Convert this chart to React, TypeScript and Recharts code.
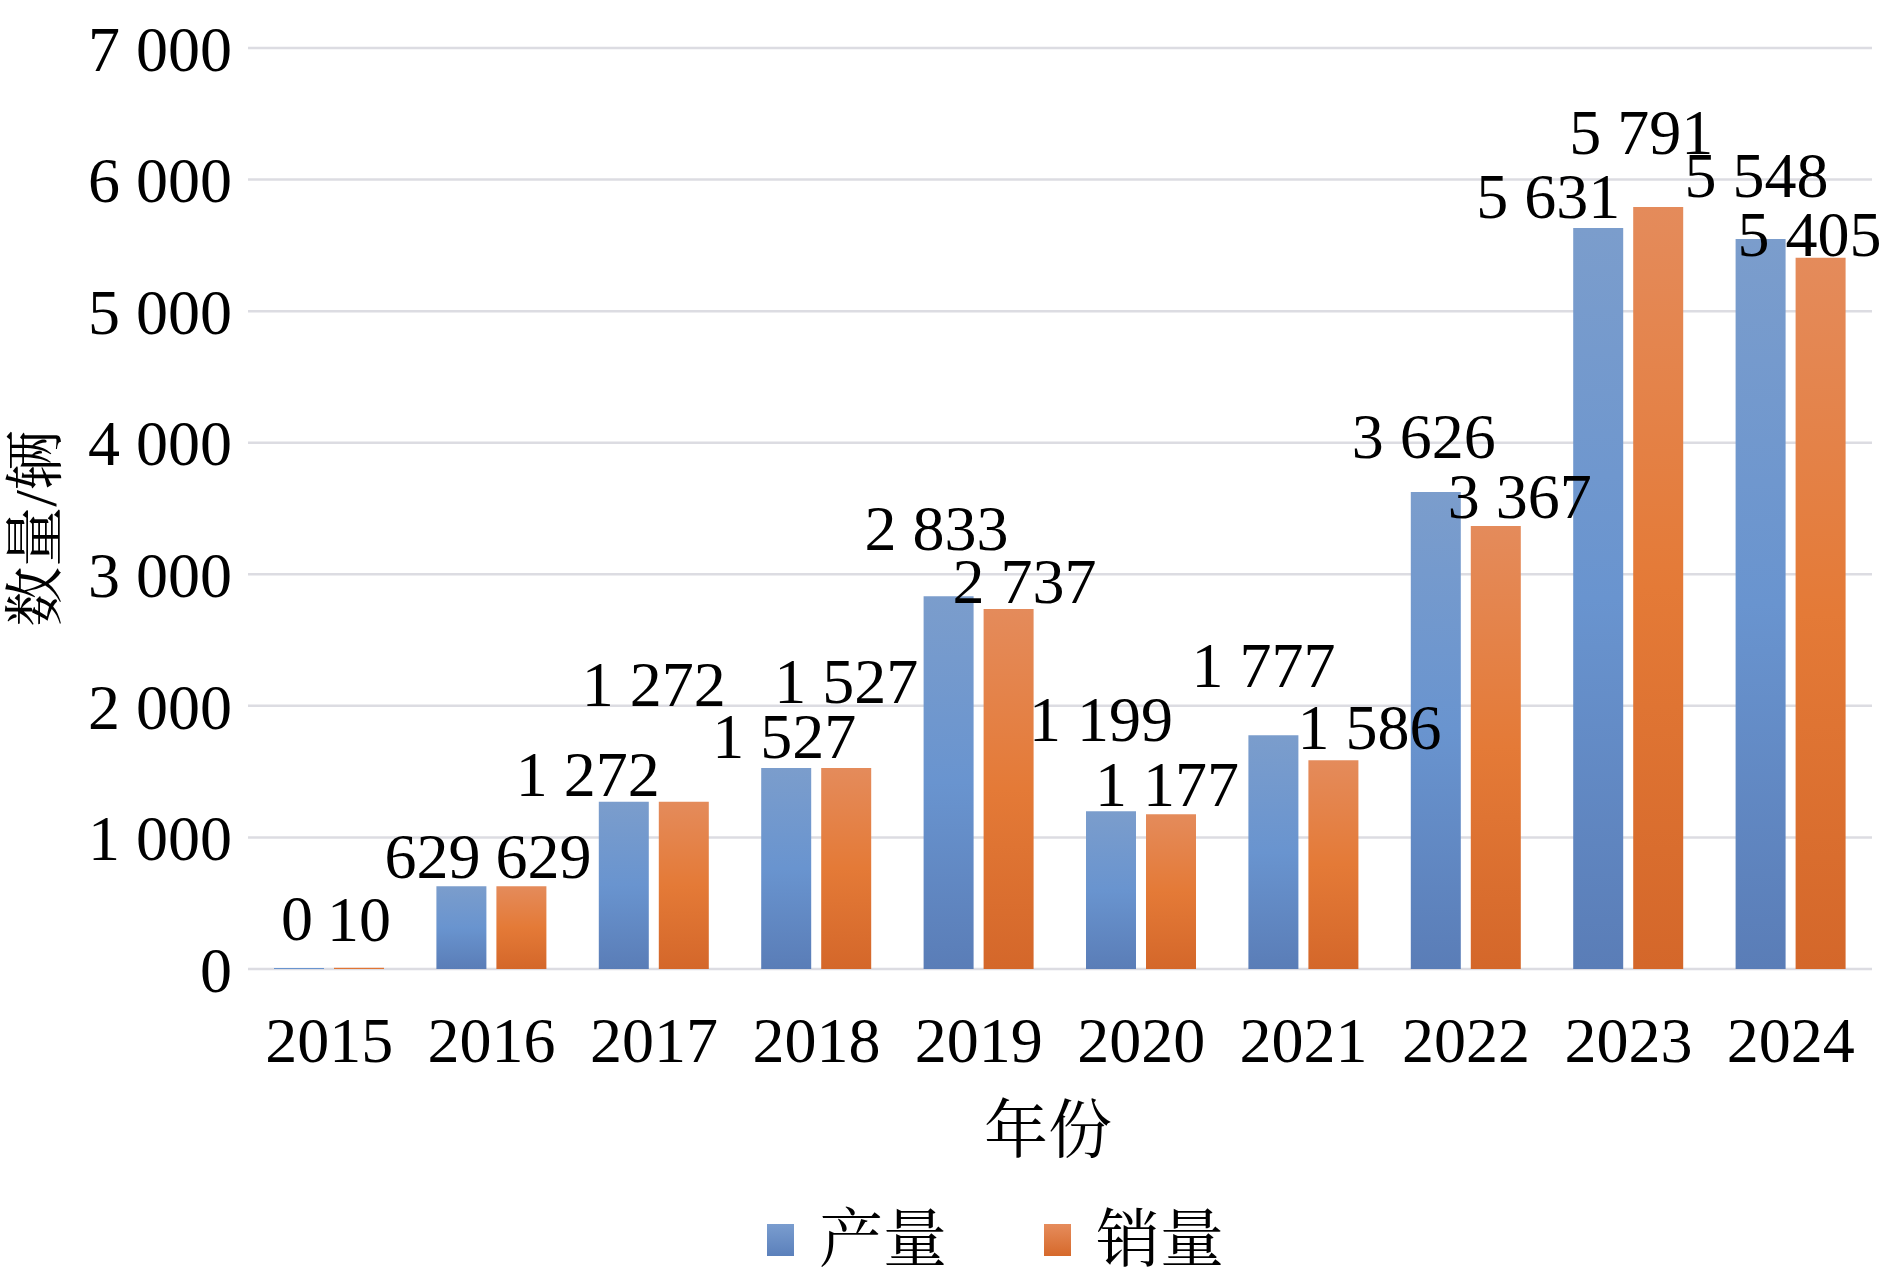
import React from "react";
import {
  BarChart,
  Bar,
  XAxis,
  YAxis,
  CartesianGrid,
  Legend,
  LabelList,
} from "recharts";

// 年份 / 产量 / 销量 (辆)
const years = ["2015", "2016", "2017", "2018", "2019", "2020", "2021", "2022", "2023", "2024"];
const production = [0, 629, 1272, 1527, 2833, 1199, 1777, 3626, 5631, 5548];
const sales = [10, 629, 1272, 1527, 2737, 1177, 1586, 3367, 5791, 5405];
const yTicks = [0, 1000, 2000, 3000, 4000, 5000, 6000, 7000];

// label nudges [dx, gap above bar], the source figure has hand-placed labels
const prodNudge = [[-2, 28], [-29, 8], [-36, 6], [-2, 10], [-12, 46], [-10, 70], [-10, 48], [-12, 34], [-50, 10], [-4, 42]];
const salesNudge = [[0, 27], [22, 8], [-30, 96], [0, 65], [16, 6], [-4, 8], [36, 11], [24, 8], [-17, 53], [-11, 2]];

const data = years.map((year, i) => ({ year, prod: production[i], sales: sales[i] }));

const SERIF = '"Liberation Serif", "Times New Roman", "Noto Serif CJK SC", "Noto Sans CJK SC", serif';
const FS = 64;

// 7 000 style thousands separator
function fmt(v: number | string): string {
  return String(v).replace(/\B(?=(\d{3})+(?!\d))/g, " ");
}

function makeLabel(values: number[], nudges: number[][]) {
  return (props: any) => {
    const { x, y, width, value } = props;
    const i = values.indexOf(Number(value));
    const [dx, gap] = nudges[i] || [0, 8];
    return (
      <text
        x={Number(x) + Number(width) / 2 + dx}
        y={Number(y) - gap}
        textAnchor="middle"
        fontSize={FS}
        fontFamily={SERIF}
        fill="#000"
      >
        {fmt(value)}
      </text>
    );
  };
}

function YTitle(props: any) {
  const { x, y, height } = props.viewBox;
  const cx = x + 36;
  const cy = y + height / 2 + 20;
  return (
    <text
      x={cx}
      y={cy}
      transform={`rotate(-90 ${cx} ${cy})`}
      textAnchor="middle"
      dominantBaseline="central"
      fontSize={60}
      fontFamily={SERIF}
      fill="#000"
    >
      数量/辆
    </text>
  );
}

function XTitle(props: any) {
  const { x, y, width } = props.viewBox;
  return (
    <text
      x={x + width / 2 - 12}
      y={y + 161}
      textAnchor="middle"
      dominantBaseline="central"
      fontSize={FS}
      fontFamily={SERIF}
      fill="#000"
    >
      年份
    </text>
  );
}

function LegendBox() {
  const item = (color: string, text: string, ml: number) => (
    <div style={{ display: "flex", alignItems: "center", marginLeft: ml }}>
      <div style={{ width: 27, height: 32, background: color, marginRight: 25 }} />
      <span style={{ fontSize: FS, fontFamily: SERIF, color: "#000", lineHeight: 1 }}>{text}</span>
    </div>
  );
  return (
    <div style={{ display: "flex", alignItems: "center", height: 84, paddingTop: 16, paddingLeft: 767 }}>
      {item("linear-gradient(#7a9dcf, #5b80bb)", "产量", 0)}
      {item("linear-gradient(#e68c5c, #d6692b)", "销量", 97)}
    </div>
  );
}

// a zero bar still needs a hairline so its "0" label is placed
const zeroPoint = (v: any) => (Number(v) === 0 ? 1 : 0);

export default function App() {
  return (
    <div style={{ position: "absolute", left: 0, top: 0, width: 1890, height: 1282, background: "#fff" }}>
      <BarChart
        width={1890}
        height={1282}
        data={data}
        margin={{ top: 48, right: 18, bottom: 0, left: 0 }}
        barSize={50}
        barGap={10}
      >
        <defs>
          <linearGradient id="gBlue" x1="0" y1="0" x2="0" y2="1">
            <stop offset="0%" stopColor="#7b9dcc" />
            <stop offset="50%" stopColor="#6994cf" />
            <stop offset="100%" stopColor="#5a7db7" />
          </linearGradient>
          <linearGradient id="gOrange" x1="0" y1="0" x2="0" y2="1">
            <stop offset="0%" stopColor="#e48b5b" />
            <stop offset="50%" stopColor="#e47a37" />
            <stop offset="100%" stopColor="#d4672a" />
          </linearGradient>
        </defs>
        <CartesianGrid vertical={false} stroke="#dcdce2" strokeWidth={2.5} />
        <XAxis
          dataKey="year"
          height={213}
          axisLine={false}
          tickLine={false}
          tickSize={0}
          tickMargin={48}
          tick={{ fontSize: FS, fontFamily: SERIF, fill: "#000" }}
          interval={0}
          label={{ content: XTitle }}
        />
        <YAxis
          width={248}
          domain={[0, 7000]}
          ticks={yTicks}
          axisLine={false}
          tickLine={false}
          tickSize={0}
          tickMargin={16}
          tickFormatter={fmt}
          tick={{ fontSize: FS, fontFamily: SERIF, fill: "#000" }}
          label={{ content: YTitle }}
        />
        <Legend
          verticalAlign="bottom"
          content={LegendBox}
          wrapperStyle={{ left: 0, width: 1890, height: 100, bottom: 0 }}
        />
        <Bar dataKey="prod" name="产量" fill="url(#gBlue)" minPointSize={zeroPoint} isAnimationActive={false}>
          <LabelList dataKey="prod" content={makeLabel(production, prodNudge)} />
        </Bar>
        <Bar dataKey="sales" name="销量" fill="url(#gOrange)" isAnimationActive={false}>
          <LabelList dataKey="sales" content={makeLabel(sales, salesNudge)} />
        </Bar>
      </BarChart>
    </div>
  );
}
